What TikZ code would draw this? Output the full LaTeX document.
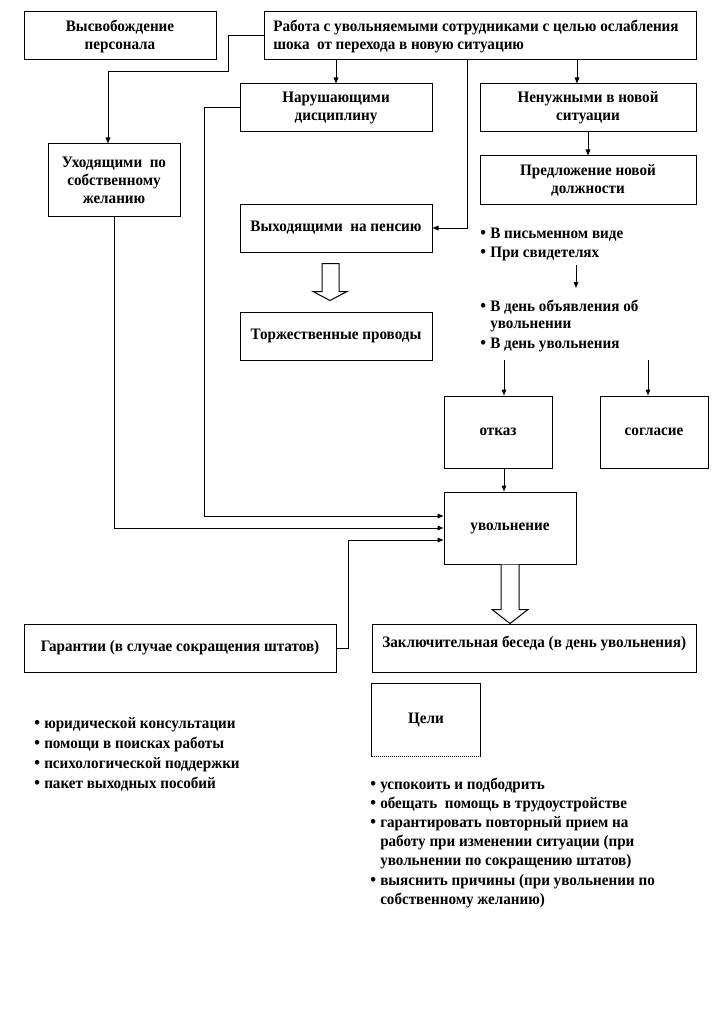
\documentclass[tikz,border=0pt]{standalone}
\usepackage{fontspec}
\setmainfont{Liberation Serif}[FakeStretch=0.945]
\usetikzlibrary{arrows.meta,calc}
\tikzset{
  every node/.style={font=\fontsize{12}{13.5}\selectfont\bfseries},
  box/.style={draw,line width=0.75pt,inner sep=0pt,align=center},
  arr/.style={-{Triangle[length=4.5pt,width=3.5pt]},line width=0.75pt},
  ln/.style={line width=0.75pt},
  txt/.style={anchor=base west,inner sep=0pt},
  blk/.style={line width=0.75pt,fill=white,line join=miter}
}
\newcommand\bul{\makebox[7.5pt][l]{\smash{\fontsize{13}{13}\selectfont\textbullet}}}
% \bx[options]{name}{x1}{y1}{x2}{y2}{text}
\newcommand\bx[7][]{\node[box,minimum width={(#5-#3)*0.75pt},minimum height={(#6-#4)*0.75pt},#1] (#2) at ({(#3+#5)/2},{(#4+#6)/2}) {#7};}
\begin{document}
\begin{tikzpicture}[x=0.75pt,y=-0.75pt]
\fill[white] (0,0) rectangle (711,1020);
\useasboundingbox (0,0) rectangle (711,1020);

% boxes
\bx{vysv}{24}{12}{216}{60}{Высвобождение\\персонала}
\bx{rabota}{264}{12}{696}{60}{}
\node[anchor=west,inner sep=0pt,align=left] (rabtxt) at (273,37) {Работа с увольняемыми сотрудниками с целью ослабления\\шока\ \ от перехода в новую ситуацию};
\bx{narush}{240}{84}{432}{132}{Нарушающими\\дисциплину}
\bx{nenuzh}{480}{84}{696}{132}{Ненужными в новой\\ситуации}
\bx{uhod}{48}{144}{180}{216}{Уходящими\ \ по\\собственному\\желанию}
\bx{predl}{480}{156}{696}{204}{Предложение новой\\должности}
\bx{vyh}{240}{204}{432}{252}{Выходящими\ \ на пенсию}
\bx{torzh}{240}{312}{432}{360}{Торжественные проводы}
\bx{otkaz}{444}{396}{552}{468}{отказ}
\bx{sogl}{600}{396}{708}{468}{согласие}
\bx{uvol}{444}{492}{576}{564}{увольнение}
\bx{garant}{24}{624}{336}{672}{Гарантии (в случае сокращения штатов)}
\bx{zakl}{372}{624}{696}{672}{}
\node[txt] (zakltxt) at (382,647) {Заключительная беседа (в день увольнения)};
\bx[draw=none]{celi}{372}{684}{480}{756}{Цели}
\draw[ln] (celi.south west) -- (celi.north west) -- (celi.north east) -- (celi.south east);
\draw[densely dotted,line width=0.5pt] (celi.south west) -- (celi.south east);

% bullet texts
\node[txt] (p1) at (480,238) {\bul В письменном виде};
\node[txt] (p2) at (480,257) {\bul При свидетелях};
\node[txt] (p3) at (480,311) {\bul В день объявления об};
\node[txt] (p4) at (480,328) {\hspace{7.5pt}увольнении};
\node[txt] (p5) at (480,348) {\bul В день увольнения};

\node[txt] (g1) at (34,728) {\bul юридической консультации};
\node[txt] (g2) at (34,748) {\bul помощи в поисках работы};
\node[txt] (g3) at (34,768) {\bul психологической поддержки};
\node[txt] (g4) at (34,788) {\bul пакет выходных пособий};

\node[txt] (c1) at (370,789) {\bul успокоить и подбодрить};
\node[txt] (c2) at (370,808.2) {\bul обещать\ \ помощь в трудоустройстве};
\node[txt] (c3) at (370,827.4) {\bul гарантировать повторный прием на};
\node[txt] (c4) at (370,846.6) {\hspace{7.5pt}работу при изменении ситуации (при};
\node[txt] (c5) at (370,865.8) {\hspace{7.5pt}увольнении по сокращению штатов)};
\node[txt] (c6) at (370,885) {\bul выяснить причины (при увольнении по};
\node[txt] (c7) at (370,904.2) {\hspace{7.5pt}собственному желанию)};

% connectors
\draw[arr] (rabota.west) -- (228,36) -- (228,72) -- (108,72) -- ($(uhod.north)+(-6,0)$);
\draw[arr] (narush.north |- rabota.south) -- (narush.north);
\coordinate (n1) at ($(nenuzh.north)+(-11,0)$);
\draw[arr] (n1 |- rabota.south) -- (n1);
\draw[arr] (nenuzh) -- (predl);
\draw[arr] ($(rabota.south west)+(204,0)$) |- (vyh.east);
\draw[arr] (narush.west) -- (204,108) |- ($(uvol.west)+(0,-12)$);
\draw[arr] (uhod.south) |- (uvol.west);
\draw[arr] (garant.east) -- (348,648) |- ($(uvol.west)+(0,12)$);

\coordinate (a1) at (576,265);
\coordinate (a2) at (576,288);
\draw[arr] (a1) -- (a2);
\coordinate (b1) at (504,360);
\draw[arr] (b1) -- (b1 |- otkaz.north);
\draw[arr] (b1 |- otkaz.south) -- (b1 |- uvol.north);
\coordinate (b2) at (648,360);
\draw[arr] (b2) -- (b2 |- sogl.north);

% block arrows
\draw[blk] ($(vyh.south)+(-14,11)$) -- ($(vyh.south)+(-14,39)$) -- ($(vyh.south)+(-23,39)$)
  -- ($(vyh.south)+(-6,48)$) -- ($(vyh.south)+(11,39)$) -- ($(vyh.south)+(3,39)$)
  -- ($(vyh.south)+(3,11)$) -- cycle;
\draw[blk] ($(uvol.south)+(-9,0)$) -- ($(uvol.south)+(-9,45)$) -- ($(uvol.south)+(-18,45)$)
  -- (uvol.south |- zakl.north) -- ($(uvol.south)+(18,45)$) -- ($(uvol.south)+(9,45)$)
  -- ($(uvol.south)+(9,0)$);
\end{tikzpicture}
\end{document}
